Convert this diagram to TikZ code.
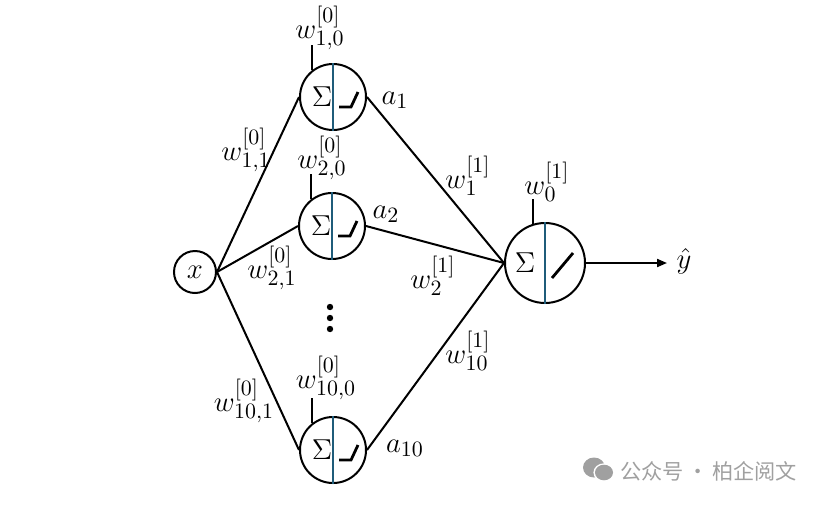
\documentclass[tikz,border=0pt]{standalone}
\usepackage{fontspec}
\newfontfamily\cjkfont{Noto Sans CJK SC}
\usetikzlibrary{arrows.meta}
\definecolor{divcol}{HTML}{1F5C7A}
\definecolor{wmgray}{HTML}{A0A0A0}
\tikzset{
  neuron/.style={circle,draw=black,line width=1pt,minimum size=33pt,inner sep=0pt},
  outneuron/.style={circle,draw=black,line width=1pt,minimum size=40pt,inner sep=0pt},
  innode/.style={circle,draw=black,line width=1pt,minimum size=21pt,inner sep=0pt,font=\fontsize{15}{18}\selectfont},
  conn/.style={line width=1pt,black},
  divline/.style={line width=0.8pt,divcol},
  actline/.style={line width=1.4pt,black},
  lbl/.style={inner sep=0pt,font=\fontsize{15}{18}\selectfont},
  sig/.style={inner sep=0pt,font=\fontsize{15}{18}\selectfont},
}
\begin{document}
\begin{tikzpicture}[x=0.5pt,y=-0.5pt]
\useasboundingbox (0,0) rectangle (828,504);
% nodes
\node[innode] (x) at (195,272) {$x$};
\node[neuron] (n1) at (333,97) {};
\node[neuron] (n2) at (332,226) {};
\node[neuron] (n10) at (333,450) {};
\node[outneuron] (o) at (545,263) {};
% dividers, sigmas, activations
\foreach \n in {n1,n2,n10}{
  \draw[divline] (\n.north) -- (\n.south);
  \node[sig] at ([xshift=-5.5pt]\n.center) {$\Sigma$};
  \draw[actline] ([shift={(6,10)}]\n.center) -- ([shift={(18,10)}]\n.center) -- ([shift={(25,-5)}]\n.center);
  \draw[conn] (\n.128) -- ++(0,-25);
}
\draw[divline] (o.north) -- (o.south);
\node[sig] at ([xshift=-10pt]o.center) {$\Sigma$};
\draw[actline] ([shift={(7,15)}]o.center) -- ([shift={(28,-10)}]o.center);
\draw[conn] (o.107) -- ++(0,-25);
% connectors
\draw[conn] (x.east) -- (n1.west);
\draw[conn] (x.east) -- (n2.west);
\draw[conn] (x.east) -- (n10.west);
\draw[conn] (n1.east) -- (o.west);
\draw[conn] (n2.east) -- (o.west);
\draw[conn] (n10.east) -- (o.west);
\coordinate (yend) at (667,263);
\draw[conn,-{Triangle[length=5pt,width=4pt]}] (o.east) -- (yend);
% labels
\node[lbl] (yhat) at (684,261) {$\hat{y}$};
\node[lbl] (l10a) at (320,28) {$w^{[0]}_{1,0}$};
\node[lbl] (l20a) at (322,158) {$w^{[0]}_{2,0}$};
\node[lbl] (l100a) at (326,378) {$w^{[0]}_{10,0}$};
\node[lbl] (l11) at (246,150) {$w^{[0]}_{1,1}$};
\node[lbl] (l21) at (272,268) {$w^{[0]}_{2,1}$};
\node[lbl] (l101) at (244,401) {$w^{[0]}_{10,1}$};
\node[lbl] (a1) at (395,100) {$a_1$};
\node[lbl] (a2) at (386,214) {$a_2$};
\node[lbl] (a10) at (405,448) {$a_{10}$};
\node[lbl] (w1) at (468,176) {$w^{[1]}_{1}$};
\node[lbl] (w2) at (433,276) {$w^{[1]}_{2}$};
\node[lbl] (w10) at (468,351) {$w^{[1]}_{10}$};
\node[lbl] (w0) at (547,182) {$w^{[1]}_{0}$};
% dots
\foreach \yy in {307,318,329}{\fill (330,\yy) circle (1.6pt);}
% watermark
\fill[wmgray] (594,467.5) ellipse (5.5pt and 5pt);
\fill[white] (604,472.5) ellipse (5.3pt and 4.6pt);
\fill[wmgray] (604,472.5) ellipse (4.5pt and 3.9pt);
\node[inner sep=0pt,anchor=west,text=wmgray,font=\cjkfont\fontsize{10.6}{12}\selectfont] (wm) at (620,471) {公众号\,·\,柏企阅文};
\end{tikzpicture}
\end{document}
